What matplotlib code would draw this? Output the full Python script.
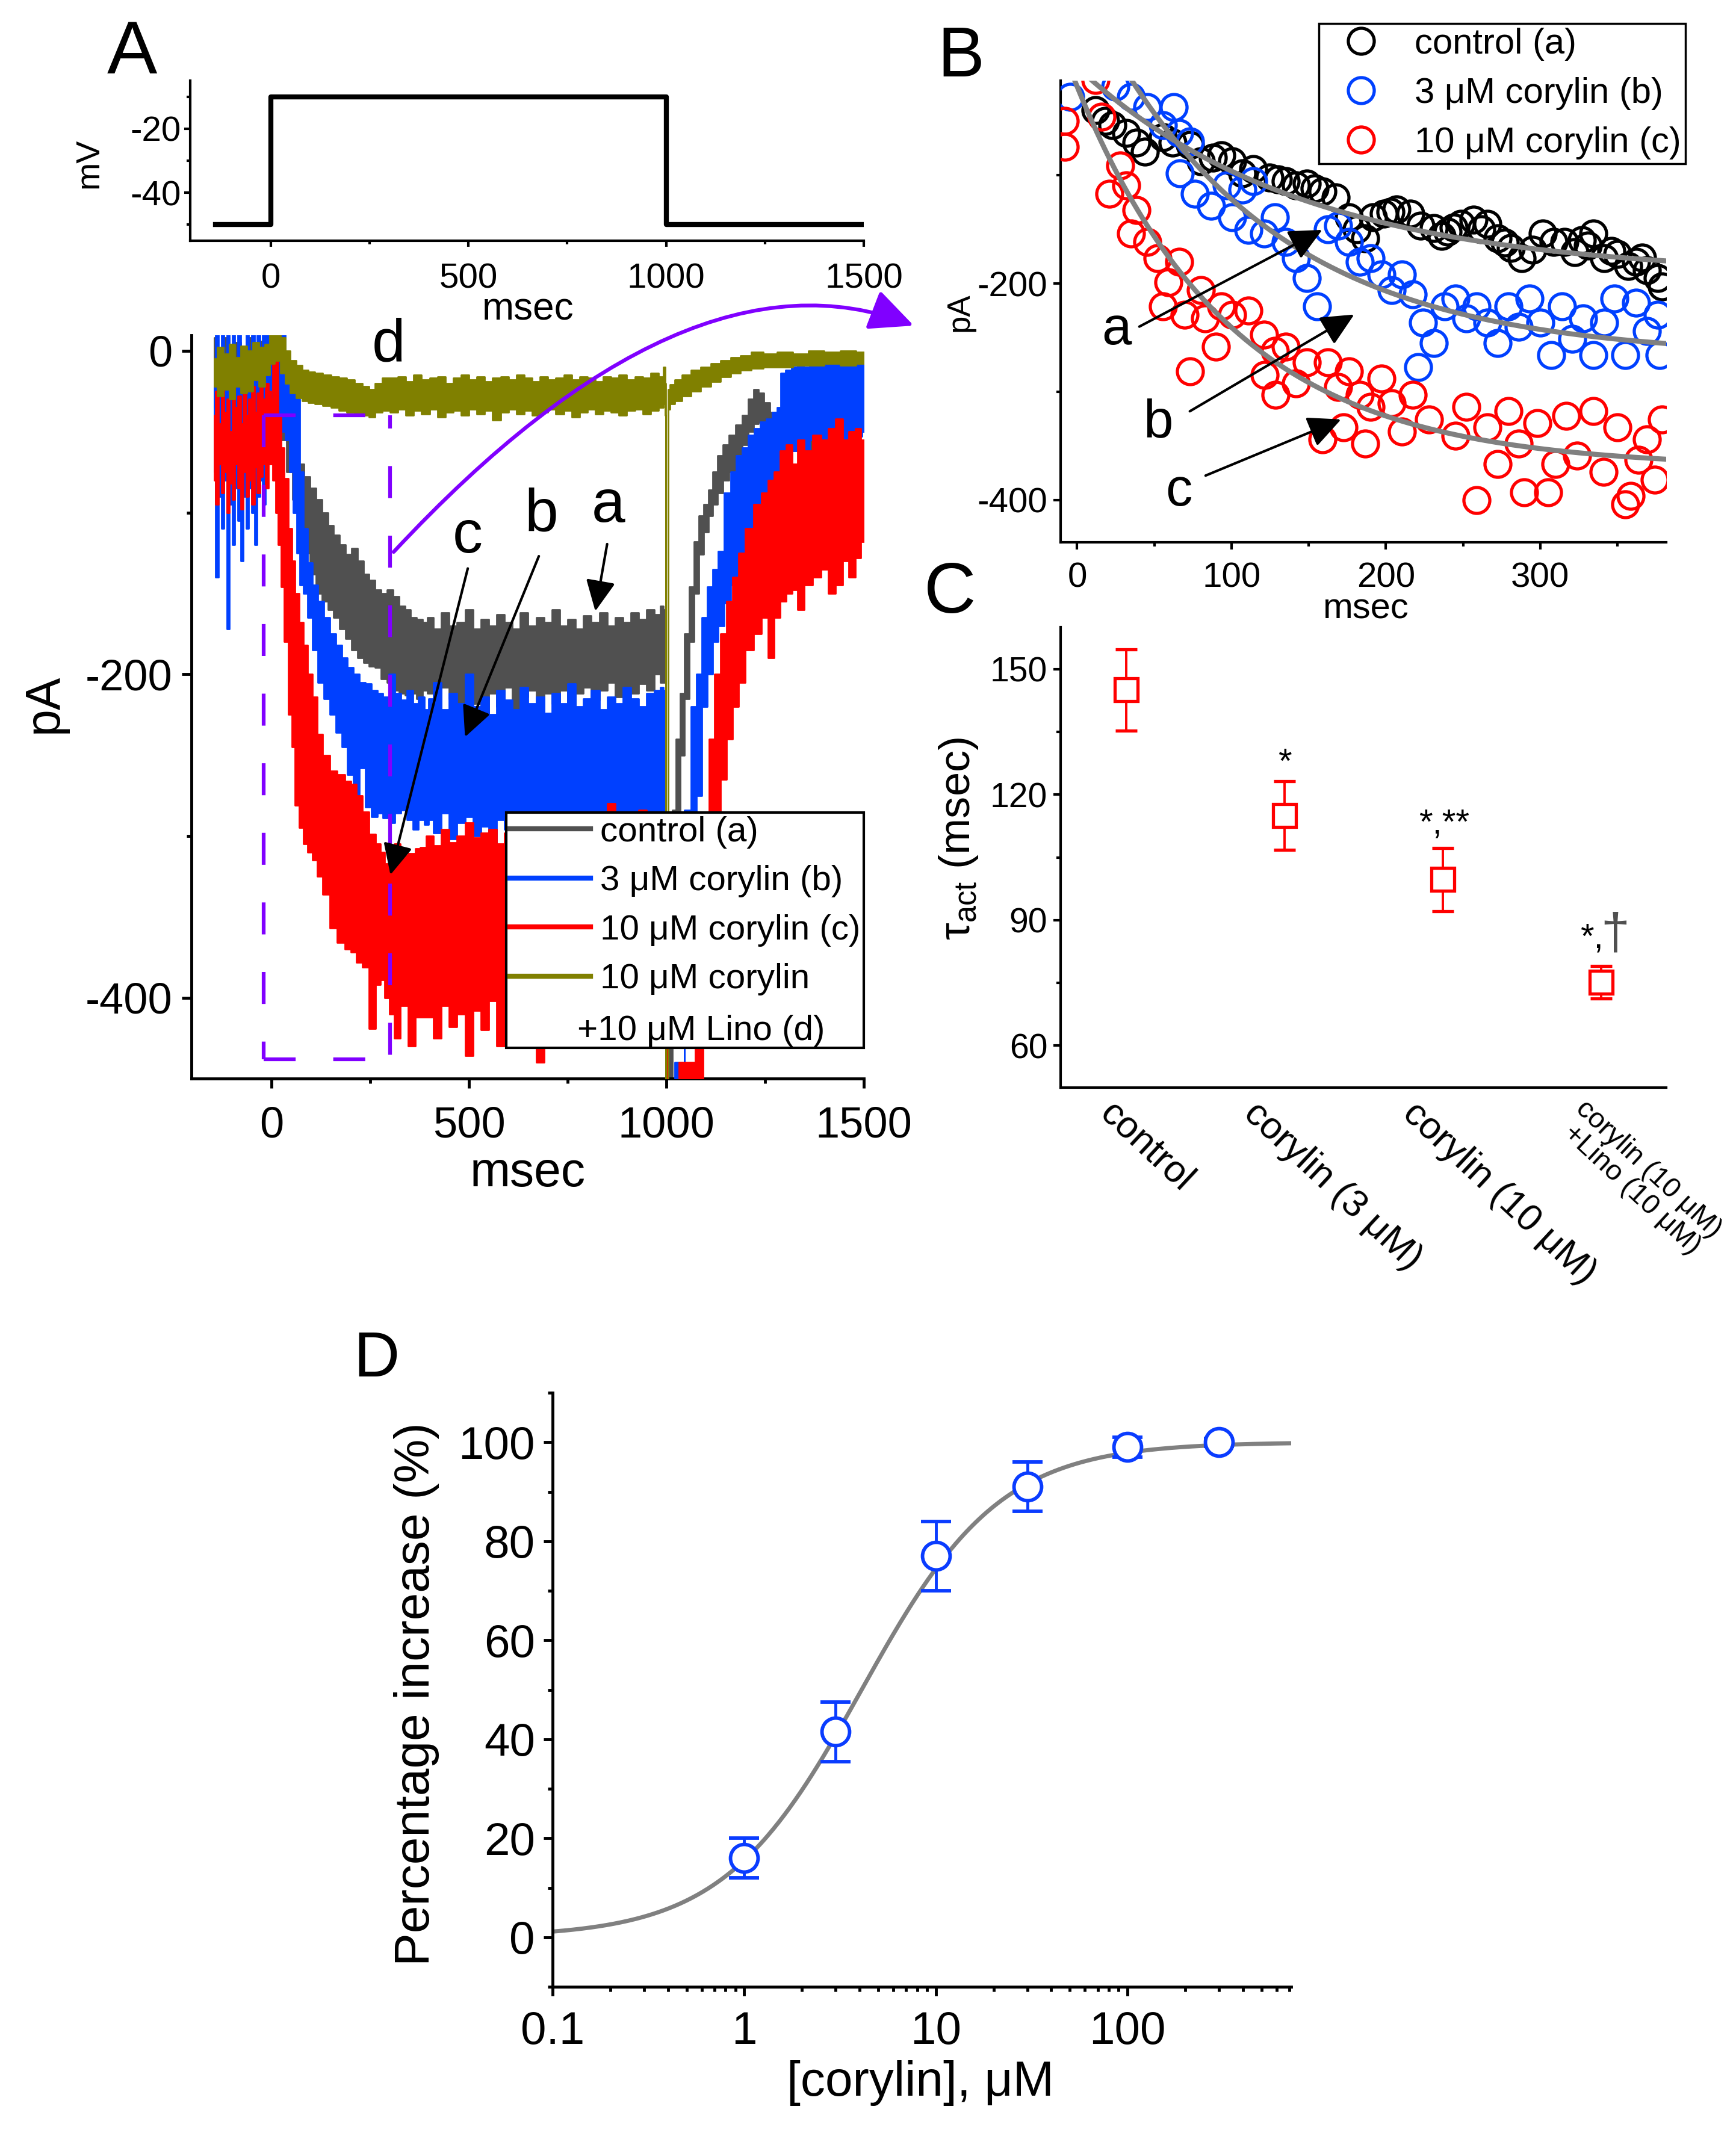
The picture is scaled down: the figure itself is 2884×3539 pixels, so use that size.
import numpy as np
import matplotlib
matplotlib.use('Agg')
import matplotlib.pyplot as plt
from matplotlib.ticker import MultipleLocator, FixedLocator, FixedFormatter, LogLocator, NullFormatter
from matplotlib.lines import Line2D
from matplotlib.patches import FancyArrowPatch
from matplotlib.path import Path
import matplotlib.transforms as mtransforms

plt.rcParams['font.family'] = ['Liberation Sans', 'DejaVu Sans']
plt.rcParams['mathtext.fontset'] = 'custom'
plt.rcParams['mathtext.rm'] = 'Liberation Sans'
plt.rcParams['mathtext.it'] = 'Liberation Sans:italic'
plt.rcParams['axes.unicode_minus'] = False

# ================= DATA =================
# Panel A (top): voltage protocol
volt_t = [-140, 0, 0, 1000, 1000, 1500]
volt_mv = [-50, -50, -10, -10, -50, -50]

# Panel A (bottom): current traces, envelopes (upper / lower) in pA
ctrl_t = [-145, -130, -115, -100, -85, -70, -55, -40, -25, -10,
          0, 15, 30, 45, 60, 75, 90, 105, 120, 135, 150, 165, 180, 195, 210, 225, 240, 255, 270, 285,
          300, 315, 330, 345, 360, 375, 390,
          400, 420, 440, 460, 480, 500, 520, 540, 560, 580, 600, 620, 640, 660, 680, 700, 720, 740, 760, 780,
          800, 820, 840, 860, 880, 900, 920, 940, 960, 980, 990,
          996, 1000, 1004, 1010, 1019, 1030, 1040, 1052, 1064, 1076, 1088, 1100, 1112, 1124, 1136, 1150,
          1166, 1184, 1200, 1215, 1227, 1240, 1255, 1270, 1285, 1300, 1320, 1340, 1360, 1380, 1400, 1420,
          1440, 1460, 1480, 1500]
ctrl_hi = [8, -2, 8, -6, 5, -4, 8, -8, 6, 2,
           8, 8, -20, -45, -58, -70, -78, -85, -92, -100, -108, -114, -120, -126, -122, -130, -138, -142, -148, -150,
           -148, -152, -158, -160, -165, -166, -168,
           -165, -172, -162, -170, -168, -160, -172, -166, -170, -163, -168, -172, -162, -170, -165, -168, -160, -170, -166, -172,
           -164, -168, -162, -170, -165, -168, -162, -166, -160, -163, -158,
           -160, -300, -445, -330, -284, -240, -212, -175, -146, -118, -102, -95, -86, -75, -65, -58,
           -52, -46, -40, -30, -24, -26, -32, -38, -40, -42, -40, -38, -42, -36, -40, -38,
           -42, -36, -32, -30]
ctrl_lo = [-35, -48, -40, -55, -42, -50, -38, -52, -45, -40,
           -30, -35, -55, -75, -92, -110, -125, -138, -150, -155, -160, -165, -172, -178, -185, -190, -193, -195, -196, -203,
           -205, -210, -212, -213, -212, -215, -210,
           -212, -224, -208, -215, -226, -210, -218, -228, -212, -220, -208, -222, -214, -210, -224, -212, -218, -210, -220, -212,
           -208, -216, -210, -205, -214, -208, -212, -206, -210, -200, -205,
           -205, -455, -455, -455, -340, -285, -250, -215, -180, -150, -126, -112, -102, -95, -88, -80,
           -75, -64, -58, -50, -45, -44, -50, -58, -60, -72, -62, -60, -66, -60, -64, -58,
           -72, -60, -56, -50]

c3_t = [-145, -138, -131, -124, -117, -110, -103, -96, -89, -82, -75, -68, -61, -54, -47, -40, -33, -26, -19, -12, -5,
        0, 10, 20, 30, 40, 50, 60, 67, 75, 85, 97, 110, 125, 140, 155, 170, 185, 200, 215, 230,
        245, 260, 275, 290, 305, 320, 335, 350, 365, 380, 395,
        400, 420, 440, 460, 480, 500, 520, 540, 560, 580, 600, 620, 640, 660, 680, 700, 720, 740, 760, 780,
        800, 820, 840, 860, 880, 900, 920, 940, 960, 980, 990,
        996, 1000, 1005, 1037, 1055, 1070, 1083, 1098, 1110, 1125, 1137, 1155, 1170, 1185, 1200, 1215,
        1230, 1245, 1260, 1275, 1285, 1295, 1310, 1325, 1340, 1355, 1370, 1385, 1400, 1415, 1430, 1445,
        1460, 1475, 1490, 1500]
c3_hi = [-20, 10, -10, 10, -15, 10, -20, 10, -5, 10, -15, -5, 10, -10, 10, -20, 10, -10, 10, 10, 10,
         10, 10, 10, 10, -10, -20, -25, -30, -75, -110, -131, -145, -155, -165, -175, -182, -190, -196, -200, -205,
         -206, -210, -212, -214, -200, -212, -216, -210, -218, -214, -222,
         -215, -205, -222, -212, -218, -200, -220, -214, -225, -210, -216, -222, -208, -218, -214, -224, -212, -218, -206, -220,
         -215, -210, -222, -214, -218, -208, -215, -220, -212, -210, -208,
         -210, -300, -455, -440, -284, -220, -200, -165, -146, -135, -124, -88, -75, -65, -60, -52,
         -48, -44, -42, -38, -35, -14, -12, -10, -8, -10, -6, -8, -5, -8, -6, -4,
         -6, -5, -4, -5]
c3_lo = [-75, -140, -90, -110, -80, -172, -95, -120, -85, -105, -130, -90, -110, -85, -100, -120, -90, -80, -95, -70, -60,
         -40, -40, -45, -50, -55, -75, -100, -125, -145, -150, -165, -185, -205, -215, -225, -236, -245, -262, -293, -258,
         -282, -288, -286, -289, -292, -286, -284, -290, -296, -290, -293,
         -290, -298, -286, -302, -292, -288, -300, -294, -305, -290, -296, -288, -300, -292, -298, -286, -294, -302, -290, -296,
         -288, -292, -300, -286, -294, -290, -296, -288, -292, -290, -285,
         -288, -455, -455, -455, -340, -290, -275, -220, -200, -180, -170, -156, -145, -140, -130, -118,
         -112, -108, -100, -85, -78, -72, -70, -62, -58, -65, -55, -60, -62, -58, -64, -72,
         -58, -55, -53, -50]

c10_t = [-145, -138, -131, -124, -117, -110, -103, -96, -89, -82, -75, -68, -61, -54, -47, -40, -33, -26, -19, -12, -5,
         0, 7, 13, 20, 28, 37, 48, 55, 64, 75, 86, 98, 110, 120, 138, 157, 176, 195, 207, 222,
         238, 256, 270, 281, 293, 305, 318, 335, 357, 370, 382,
         400, 420, 440, 460, 480, 500, 520, 540, 560, 580, 600, 620, 640, 660, 680, 700, 720, 740, 760, 780,
         800, 820, 840, 860, 880, 900, 920, 940, 960, 980, 990,
         996, 1000, 1005, 1060, 1085, 1100, 1115, 1130, 1145, 1160, 1175, 1190, 1210, 1233, 1250, 1265,
         1280, 1295, 1311, 1325, 1340, 1359, 1383, 1400, 1420, 1438, 1455, 1470, 1486, 1500]
c10_hi = [-40, -25, -45, -22, -38, -30, -50, -20, -35, -28, -45, -24, -40, -30, -22, -38, -26, -15, -30, -20, -25,
          -30, 0, 2, -40, -60, -79, -110, -130, -150, -168, -182, -200, -214, -237, -250, -260, -262, -266, -268, -275,
          -285, -299, -305, -310, -317, -310, -305, -312, -311, -308, -307,
          -300, -306, -296, -304, -300, -292, -301, -298, -296, -305, -298, -290, -300, -294, -298, -288, -296, -300, -290, -296,
          -285, -298, -292, -280, -295, -290, -296, -284, -294, -290, -295,
          -295, -330, -455, -440, -360, -290, -240, -200, -175, -155, -140, -125, -110, -95, -88, -80,
          -75, -62, -58, -70, -55, -62, -52, -55, -48, -42, -55, -50, -48, -55]
c10_lo = [-80, -95, -70, -88, -75, -100, -82, -92, -70, -85, -98, -75, -90, -80, -95, -72, -88, -78, -70, -85, -70,
          -70, -80, -100, -120, -146, -180, -225, -245, -281, -295, -305, -310, -315, -325, -336, -357, -366, -370, -372, -378,
          -381, -419, -392, -389, -400, -410, -425, -405, -430, -412, -412,
          -412, -425, -405, -418, -410, -436, -408, -420, -402, -430, -415, -405, -425, -410, -440, -408, -418, -405, -422, -410,
          -428, -405, -416, -410, -420, -400, -412, -418, -405, -410, -400,
          -405, -455, -455, -455, -455, -420, -350, -300, -265, -240, -220, -205, -185, -175, -165, -190,
          -165, -155, -150, -148, -160, -145, -140, -135, -150, -145, -130, -140, -128, -118]

lino_t = [-145, -130, -115, -100, -85, -70, -55, -40, -25, -10,
          0, 15, 30, 40, 55, 70, 85, 100, 120, 140, 160, 180, 200, 220, 240, 255, 270, 290,
          310, 330, 350, 370, 390, 410, 430, 450, 470, 490, 510, 530, 550, 570, 590, 610, 630, 650,
          670, 690, 710, 730, 750, 770, 790, 810, 830, 850, 870, 890, 910, 930, 950, 970, 990,
          996, 998.5, 999.5, 1004.5, 1005.5, 1013, 1030, 1050, 1075, 1100, 1125, 1150, 1175, 1200, 1230, 1260,
          1300, 1340, 1380, 1420, 1460, 1500]
lino_hi = [-5, 2, -2, 4, -4, 3, 0, 5, 2, 4,
           10, 10, 8, 0, -6, -9, -12, -13, -14, -15, -16, -17, -18, -20, -22, -24, -20, -17,
           -17, -16, -19, -15, -18, -17, -16, -20, -17, -15, -18, -16, -19, -17, -16, -18, -15, -17,
           -19, -16, -18, -17, -15, -18, -16, -17, -19, -16, -17, -15, -18, -16, -17, -14, -16,
           -10, -20, -455, -455, -24, -21, -18, -15, -12, -10, -8, -6, -4, -3, -1, -2,
           -1, -2, 0, -1, 0, -1]
lino_lo = [-22, -28, -24, -30, -22, -26, -25, -18, -22, -15,
           -8, -6, -14, -20, -26, -29, -31, -32, -33, -34, -35, -37, -38, -39, -40, -41, -38, -37,
           -38, -36, -40, -37, -39, -36, -41, -38, -37, -40, -36, -39, -37, -43, -38, -36, -39, -37,
           -40, -38, -36, -39, -37, -41, -38, -36, -39, -37, -38, -40, -37, -36, -39, -37, -35,
           -33, -40, -455, -455, -36, -33, -31, -28, -25, -22, -19, -16, -14, -12, -11, -10,
           -10, -9, -9, -8, -9, -8]

trace_labels = ['control (a)', '3 \u03bcM corylin (b)', '10 \u03bcM corylin (c)', '10 \u03bcM corylin']
lino_label2 = '+10 \u03bcM Lino (d)'

# Panel B: activation phase (msec, pA)
b_ctrl_t = [12, 18, 23, 31.7, 38.5, 43.7, 55.7, 62, 73, 80, 88, 93.6, 100.5, 107, 114, 124.6, 130, 135, 141.8, 148.7,
            154, 159, 167.6, 176, 181, 186.5, 191.7, 198.6, 203, 207, 215.8, 222.6, 231, 236, 240, 244, 248.5, 257,
            262, 265.7, 272.5, 277, 281, 288, 295, 301.8, 308.7, 315.6, 322.4, 327, 331, 334.5, 341.4, 346, 350,
            357, 362, 366, 369, 376, 379]
b_ctrl_i = [-40, -50, -54, -61, -70, -78, -65, -70, -72, -87, -84, -81.5, -87, -98, -94.6, -102, -104, -105.7, -109.5, -107.6,
            -112, -115, -120.6, -139, -150, -158, -139, -135.5, -134, -131.8, -135.5, -146.7, -148.6, -156, -152.3, -148, -144.9, -141,
            -150, -145, -158, -162, -167, -176.5, -169, -154, -161.6, -161.6, -171, -160, -165, -154, -176.5, -170, -172.8,
            -184, -180, -176, -187.7, -195, -202.6]
b_c3_t = [-4.5, 24.8, 35, 45.4, 55.7, 62.6, 66, 73, 66.5, 76.4, 86.7, 97, 100.5, 107, 110.8, 114, 121, 128, 135, 141.8,
          148.7, 155.5, 162.4, 169, 176, 183, 190, 197, 203.7, 210.6, 217.5, 221, 224, 231, 238, 245, 252, 258.8,
          265.7, 272.5, 279.4, 286, 293, 300, 307, 314, 320.7, 327.6, 334.5, 341.4, 348, 355, 362, 369, 376, 377.5]
b_c3_i = [-27.5, -18, -27.5, -36.8, -53.6, -36.8, -61, -68.5, -98.3, -117, -128, -109.5, -139, -113, -150.4, -105.7, -154, -139, -161.6, -176.5,
          -195, -221, -150, -146.7, -161.6, -180, -176.5, -191.4, -206, -191.4, -210, -277, -236, -255, -221, -214, -232.4, -221,
          -236, -255, -221, -240, -214, -236, -266, -221, -251, -232, -266, -236, -214, -266, -217.5, -243.6, -228.7, -266]
b_c10_t = [-8, -8, 12, 16, 21, 28, 31.7, 35, 38.5, 45.4, 52, 55.7, 59, 66, 69.5, 73, 80, 83, 90, 93.6, 100.5, 110.8,
           121, 121.5, 128, 128.5, 135, 141.8, 148.7, 159, 162.4, 169, 172.7, 176, 183, 186.5, 190, 197, 203.7, 210.6,
           217.5, 227.8, 245, 252, 258.8, 265.7, 272.5, 279.4, 286, 289.7, 298, 305, 310, 317, 324, 334.5, 341, 350,
           355, 358.6, 363.7, 369, 374, 379]
b_c10_i = [-50, -74, -12, -46, -117, -91, -109.5, -154, -132, -161.6, -176.5, -221, -199, -180, -228.7, -281, -206, -232, -258.5, -221, -228.7, -225,
           -247, -284.6, -262, -303, -258.5, -292, -273, -344, -273, -295.8, -333, -281, -303, -348, -314, -288, -310.7, -336.7,
           -303, -325.6, -340.5, -314, -400, -333, -366.5, -318, -348, -392.6, -329, -392.6, -366.5, -322, -359, -318, -374, -333,
           -403.8, -396, -363, -344, -381.4, -325.6]
b_labels = ['control (a)', '3 \u03bcM corylin (b)', '10 \u03bcM corylin (c)']
# exponential fits (tau from panel C)
b_fit_tau = [145, 115, 100]
b_fit_iss = [-193, -268, -370]
b_fit_t0 = [0, 30, -5]

# Panel C: activation time constants
c_x = [1, 2, 3, 4]
c_tau = [145, 115, 99.7, 75.2]
c_err = [9.7, 8.2, 7.6, 3.9]
c_labels = ['control', 'corylin (3 \u03bcM)', 'corylin (10 \u03bcM)', 'corylin (10 \u03bcM)\n +Lino (10 \u03bcM)']

# Panel D: concentration-response
d_conc = [1, 3, 10, 30, 100, 300]
d_pct = [16, 41.5, 77, 91, 99, 100]
d_err = [4, 6, 7, 5, 2, 0.8]
d_ec50 = 4.1
d_hill = 1.2

# ================= FIGURE =================
W, H = 2884, 3539
fig = plt.figure(figsize=(W / 100, H / 100), dpi=100)


def add_ax(l, t, r, b):
    return fig.add_axes([l / W, 1 - b / H, (r - l) / W, (b - t) / H])


def fx(px):
    return px / W


def fy(py):
    return 1 - py / H


def style(ax, lw, major, minor, labsize, xpad, ypad):
    for s in ['top', 'right']:
        ax.spines[s].set_visible(False)
    for s in ['left', 'bottom']:
        ax.spines[s].set_linewidth(lw)
    ax.tick_params(which='major', direction='out', length=major, width=lw, labelsize=labsize)
    ax.tick_params(which='minor', direction='out', length=minor, width=lw)
    ax.tick_params(axis='x', which='major', pad=xpad)
    ax.tick_params(axis='y', which='major', pad=ypad)


GRAY = '#505050'
BLUE = '#0040ff'
RED = '#ff0000'
OLIVE = '#808000'
PURPLE = '#8000ff'
MBLUE = '#0a3cff'

# ---------- Panel A top ----------
axA1 = add_ax(316, 134, 1435, 400)
axA1.plot(volt_t, volt_mv, color='black', lw=6)
axA1.set_xlim(-204, 1500)
axA1.set_ylim(-55, -5)
axA1.xaxis.set_major_locator(MultipleLocator(500))
axA1.xaxis.set_minor_locator(MultipleLocator(250))
axA1.yaxis.set_major_locator(MultipleLocator(20))
axA1.yaxis.set_minor_locator(MultipleLocator(10))
style(axA1, 3, 7, 4.5, 42, 19, 4)
axA1.set_xlabel('msec', fontsize=46)
axA1.xaxis.set_label_coords(0.5013, -0.432)
axA1.xaxis.label.set_va('center')
axA1.set_ylabel('mV', fontsize=40)
axA1.yaxis.set_label_coords(-0.150, 0.485)
axA1.yaxis.label.set_va('center')

# ---------- Panel A bottom ----------
axA2 = add_ax(318, 557, 1435, 1792)
for t, hi, lo, col, z in [(ctrl_t, ctrl_hi, ctrl_lo, GRAY, 2), (c3_t, c3_hi, c3_lo, BLUE, 3),
                          (c10_t, c10_hi, c10_lo, RED, 4), (lino_t, lino_hi, lino_lo, OLIVE, 5)]:
    axA2.fill_between(t, lo, hi, step='mid', facecolor=col, edgecolor=col, lw=2, zorder=z)
axA2.set_xlim(-203, 1500)
axA2.set_ylim(-450, 9.6)
axA2.xaxis.set_major_locator(MultipleLocator(500))
axA2.xaxis.set_minor_locator(MultipleLocator(250))
axA2.yaxis.set_major_locator(MultipleLocator(200))
axA2.yaxis.set_minor_locator(MultipleLocator(100))
style(axA2, 3.5, 11.5, 6, 52, 21, 11)
axA2.set_xlabel('msec', fontsize=58)
axA2.xaxis.set_label_coords(0.5004, -0.128)
axA2.xaxis.label.set_va('center')
axA2.set_ylabel('pA', fontsize=58)
axA2.yaxis.set_label_coords(-0.2184, 0.5045)
axA2.yaxis.label.set_va('center')

# dashed selection box
box_kw = dict(color=PURPLE, lw=4.5, ls=(0, (8.5, 10)), zorder=6)
axA2.plot([-20, 300], [-40, -40], **box_kw)
axA2.plot([-20, -20], [-40, -438], **box_kw)
axA2.plot([300, 300], [-40, -438], **dict(box_kw, ls=(5, (8.5, 10))))
axA2.plot([-20, 300], [-438, -438], **box_kw)

# letters and arrows
for s, x, y in [('a', 853, -96), ('b', 684, -102), ('c', 497, -115), ('d', 297, 3)]:
    axA2.text(x, y, s, fontsize=72, ha='center', va='center', zorder=8)
arrA = dict(arrowstyle='-|>,head_length=0.75,head_width=0.36', color='black', lw=3,
            mutation_scale=42, shrinkA=0, shrinkB=0)
axA2.annotate('', xy=(820, -161), xytext=(850, -119.5), arrowprops=arrA, zorder=8)
axA2.annotate('', xy=(490, -238.8), xytext=(677, -127), arrowprops=arrA, zorder=8)
axA2.annotate('', xy=(301, -324), xytext=(497, -134.6), arrowprops=arrA, zorder=8)

# legend A
hA = [Line2D([], [], color=c, lw=6) for c in [GRAY, BLUE, RED, OLIVE]] + [Line2D([], [], color='none')]
legA = axA2.legend(hA, trace_labels + [' '], loc='upper left', bbox_to_anchor=(fx(841), fy(1350)),
                   bbox_transform=fig.transFigure, fontsize=42, fancybox=False, edgecolor='black',
                   framealpha=1, borderpad=0.1, labelspacing=0.47, handlelength=2.3,
                   handletextpad=0.27, borderaxespad=0)
legA.get_frame().set_linewidth(3)
legA.set_zorder(20)
fig.text(fx(959), fy(1713), lino_label2, fontsize=42, ha='left', va='center', zorder=30)

# curved purple arrow from box to panel B
P0, P1, P2 = (654, 917), (1140, 395), (1518, 541)
cpath = Path([(fx(P0[0]), fy(P0[1])), (fx(P1[0]), fy(P1[1])), (fx(P2[0]), fy(P2[1]))],
             [Path.MOVETO, Path.CURVE3, Path.CURVE3])
carrow = FancyArrowPatch(path=cpath, arrowstyle='-|>,head_length=0.45,head_width=0.21',
                         mutation_scale=100, color=PURPLE, lw=4.5, transform=fig.transFigure)
fig.add_artist(carrow)

# ---------- Panel B ----------
axB = add_ax(1762, 134, 2768, 901)
tf = np.linspace(-11, 382, 400)
for tau, iss, t0 in zip(b_fit_tau, b_fit_iss, b_fit_t0):
    axB.plot(tf, iss * (1 - np.exp(-(tf - t0) / tau)), color='#808080', lw=6, zorder=4)
mk = dict(ls='none', marker='o', ms=31, mfc='none', mew=3.8)
axB.plot(b_ctrl_t, b_ctrl_i, mec='black', zorder=3, **mk)
axB.plot(b_c3_t, b_c3_i, mec=BLUE, zorder=3, **mk)
axB.plot(b_c10_t, b_c10_i, mec=RED, zorder=3, **mk)
axB.set_xlim(-10.7, 381.6)
axB.set_ylim(-439, -12.6)
axB.xaxis.set_major_locator(MultipleLocator(100))
axB.xaxis.set_minor_locator(MultipleLocator(50))
axB.yaxis.set_major_locator(MultipleLocator(200))
axB.yaxis.set_minor_locator(MultipleLocator(100))
style(axB, 3, 8.6, 5, 42, 15, 7)
axB.set_xlabel('msec', fontsize=43)
axB.xaxis.set_label_coords(0.503, -0.145)
axB.xaxis.label.set_va('center')
axB.set_ylabel('pA', fontsize=38)
axB.yaxis.set_label_coords(-0.166, 0.498)
axB.yaxis.label.set_va('center')
for s, x, y in [('a', 25.6, -243.4), ('b', 52.3, -329), ('c', 66, -392.5)]:
    axB.text(x, y, s, fontsize=64, ha='center', va='center', zorder=8)
arrB = dict(arrowstyle='-|>,head_length=0.8,head_width=0.38', color='black', lw=3,
            mutation_scale=42, shrinkA=0, shrinkB=0)
axB.annotate('', xy=(158.8, -150.4), xytext=(40.3, -239.8), arrowprops=arrB, zorder=8)
axB.annotate('', xy=(179.5, -228.6), xytext=(73, -318), arrowprops=arrB, zorder=8)
axB.annotate('', xy=(171, -325.5), xytext=(83.2, -377.4), arrowprops=arrB, zorder=8)
hB = [Line2D([], [], ls='none', marker='o', ms=31, mfc='none', mec=c, mew=3.8) for c in ['black', BLUE, RED]]
legB = axB.legend(hB, b_labels, loc='upper left', bbox_to_anchor=(fx(2191), fy(39)),
                  bbox_transform=fig.transFigure, fontsize=43, fancybox=False, edgecolor='black',
                  framealpha=1, borderpad=0.12, labelspacing=0.45, handlelength=2.1,
                  handletextpad=0.45, borderaxespad=0)
legB.get_frame().set_linewidth(2.5)
legB.set_zorder(20)

# ---------- Panel C ----------
axC = add_ax(1762, 1042, 2768, 1807)
axC.errorbar(c_x, c_tau, yerr=c_err, fmt='s', ms=27, mfc='white', mec=RED, mew=3.8,
             ecolor=RED, elinewidth=2.8, capsize=13, capthick=2.8, zorder=3)
axC.set_xlim(0.586, 4.41)
axC.set_ylim(50, 160)
axC.yaxis.set_major_locator(MultipleLocator(30))
axC.yaxis.set_minor_locator(MultipleLocator(15))
style(axC, 3, 8.6, 5, 41, 9, 7)
axC.tick_params(axis='x', which='both', length=0)
axC.set_xticks(c_x)
axC.set_xticklabels(c_labels)
c_dx = [-15, -39, -38, -21]
for lab, dx in zip(axC.get_xticklabels(), c_dx):
    lab.set_rotation(-43)
    lab.set_ha('left')
    lab.set_va('top')
    lab.set_rotation_mode('anchor')
    lab.set_fontsize(45)
    lab.set_transform(lab.get_transform() + mtransforms.ScaledTranslation(dx / 100, 0, fig.dpi_scale_trans))
axC.get_xticklabels()[3].set_fontsize(34)
axC.get_xticklabels()[3].set_linespacing(1.0)
axC.set_ylabel('\u03c4$_{\\mathrm{act}}$ (msec)', fontsize=52)
axC.yaxis.set_label_coords(-0.168, 0.54)
axC.yaxis.label.set_va('center')
axC.text(2.0, 125.3, '*', fontsize=42, ha='center', va='baseline')
axC.text(3.007, 110.8, '*,**', fontsize=42, ha='center', va='baseline')
axC.text(3.94, 83.4, '*,', fontsize=42, ha='center', va='baseline')
axC.text(4.087, 86.3, '\u2020', fontsize=62, ha='center', va='center', color='#505050')

# ---------- Panel D ----------
axD = add_ax(918, 2314, 2145, 3301)
xfit = np.logspace(-1, np.log10(715), 400)
axD.plot(xfit, 100 / (1 + (d_ec50 / xfit) ** d_hill), color='#808080', lw=5, zorder=1)
axD.errorbar(d_conc, d_pct, yerr=d_err, fmt='o', ms=33, mfc='white', mec=MBLUE, mew=4.2,
             ecolor=MBLUE, elinewidth=3.5, capsize=18, capthick=3.5, zorder=3)
axD.set_xscale('log')
axD.set_xlim(0.1, 715)
axD.set_ylim(-10, 110)
axD.xaxis.set_major_locator(FixedLocator([0.1, 1, 10, 100]))
axD.xaxis.set_major_formatter(FixedFormatter(['0.1', '1', '10', '100']))
axD.xaxis.set_minor_locator(LogLocator(base=10, subs=np.arange(2, 10), numticks=20))
axD.xaxis.set_minor_formatter(NullFormatter())
axD.yaxis.set_major_locator(MultipleLocator(20))
axD.yaxis.set_minor_locator(MultipleLocator(10))
style(axD, 3.5, 11, 5.5, 55, 18, 10)
axD.set_xlabel('[corylin], \u03bcM', fontsize=59)
axD.xaxis.set_label_coords(0.498, -0.162)
axD.xaxis.label.set_va('center')
axD.set_ylabel('Percentage increase (%)', fontsize=59)
axD.yaxis.set_label_coords(-0.184, 0.493)
axD.yaxis.label.set_va('center')

# ---------- panel letters ----------
fig.text(fx(178), fy(32), 'A', fontsize=90, ha='left', va='top')
fig.text(fx(1557), fy(42), 'B', fontsize=84, ha='left', va='top')
fig.text(fx(1535), fy(932), 'C', fontsize=86, ha='left', va='top')
fig.text(fx(587), fy(2210), 'D', fontsize=76, ha='left', va='top')

fig.savefig('out.png', dpi=100)
